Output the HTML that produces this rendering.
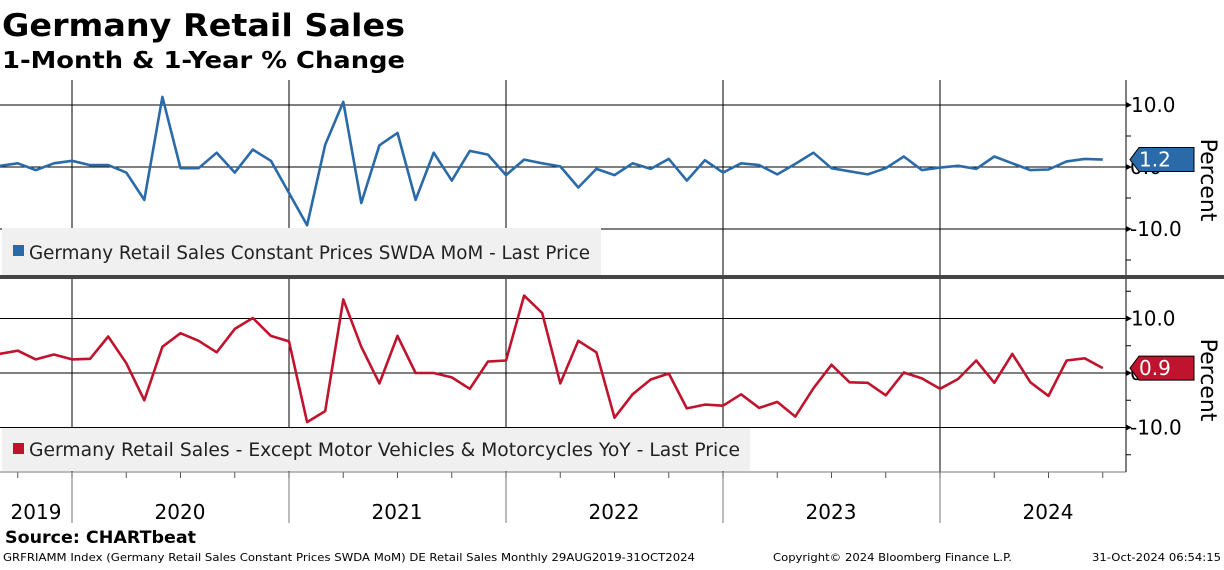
<!DOCTYPE html>
<html><head><meta charset="utf-8"><style>
body{margin:0;background:#fff;width:1224px;height:566px;overflow:hidden;font-family:"DejaVu Sans","Liberation Sans",sans-serif}
</style></head><body>
<svg id="chart" width="1224" height="566" xmlns="http://www.w3.org/2000/svg" font-family="DejaVu Sans, Liberation Sans, sans-serif">
<text x="2" y="36" font-size="31" font-weight="bold" textLength="403" lengthAdjust="spacingAndGlyphs">Germany Retail Sales</text>
<text x="2" y="68" font-size="23" font-weight="bold" textLength="403" lengthAdjust="spacingAndGlyphs">1-Month &amp; 1-Year % Change</text>
<g id="grid"></g>
<rect x="2" y="228" width="599" height="47" fill="#f0f0f0"/>
<rect x="2" y="428" width="748" height="43" fill="#f0f0f0"/>
<g id="marks"></g>
<rect x="13" y="245" width="11" height="11" fill="#2a6aa8"/>
<text x="29" y="259" font-size="19" fill="#222" textLength="561" lengthAdjust="spacingAndGlyphs">Germany Retail Sales Constant Prices SWDA MoM - Last Price</text>
<rect x="13" y="443" width="11" height="11" fill="#c0142e"/>
<text x="29" y="456" font-size="19" fill="#222" textLength="711" lengthAdjust="spacingAndGlyphs">Germany Retail Sales - Except Motor Vehicles &amp; Motorcycles YoY - Last Price</text>
<rect x="0" y="275" width="1224" height="4" fill="#444"/>
<text transform="translate(1201,180) rotate(90)" text-anchor="middle" font-size="22">Percent</text>
<text transform="translate(1201,380) rotate(90)" text-anchor="middle" font-size="22">Percent</text>
<text x="5" y="543" font-size="17" font-weight="bold" textLength="191" lengthAdjust="spacingAndGlyphs">Source: CHARTbeat</text>
<text x="3" y="561" font-size="11" textLength="692" lengthAdjust="spacingAndGlyphs">GRFRIAMM Index (Germany Retail Sales Constant Prices SWDA MoM) DE Retail Sales  Monthly 29AUG2019-31OCT2024</text>
<text x="773" y="561" font-size="11" textLength="239" lengthAdjust="spacingAndGlyphs">Copyright© 2024 Bloomberg Finance L.P.</text>
<text x="1092" y="561" font-size="11" textLength="129" lengthAdjust="spacingAndGlyphs">31-Oct-2024 06:54:15</text>
</svg>
<script>
const years = ["2019","2020","2021","2022","2023","2024"];
const momValues = [0.2,0.6,-0.5,0.6,1.0,0.3,0.3,-0.9,-5.3,11.3,-0.2,-0.2,2.3,-0.9,2.8,1.0,-4.2,-9.4,3.6,10.5,-5.8,3.5,5.5,-5.3,2.3,-2.2,2.6,2.0,-1.3,1.2,0.6,0.1,-3.3,-0.3,-1.3,0.6,-0.3,1.3,-2.2,1.1,-0.9,0.6,0.3,-1.2,0.5,2.3,-0.2,-0.7,-1.2,-0.2,1.7,-0.5,-0.1,0.2,-0.3,1.7,0.6,-0.5,-0.4,0.9,1.3,1.2];
const yoyValues = [3.5,4.1,2.5,3.4,2.5,2.6,6.7,1.8,-5.0,4.8,7.3,5.9,3.8,8.1,10.1,6.8,5.8,-9.0,-7.0,13.5,4.8,-1.9,6.8,0,0,-0.8,-2.9,2.1,2.3,14.2,11.0,-1.9,5.9,3.8,-8.2,-3.9,-1.2,-0.1,-6.5,-5.8,-6.0,-3.9,-6.4,-5.3,-8.0,-2.8,1.5,-1.7,-1.8,-4.1,0.1,-1.0,-2.9,-1.1,2.3,-1.8,3.5,-1.7,-4.2,2.3,2.7,0.9];
const yTicks = [10,0,-10];
const lastMom = "1.2", lastYoy = "0.9";

const NS="http://www.w3.org/2000/svg";
const AX=1126;
function x(i){return 72+(i-4)*217/12;}
function yTop(v){return 167-v*6.2;}
function yBot(v){return 373-v*5.45;}
function mk(tag,attrs,parent){const e=document.createElementNS(NS,tag);for(const k in attrs)e.setAttribute(k,attrs[k]);parent.appendChild(e);return e;}
const grid=document.getElementById('grid'), marks=document.getElementById('marks');

for(let k=1;k<years.length;k++){
  const xx=72+(k-1)*217;
  let l=mk('line',{x1:xx,x2:xx,y1:80,y2:472,stroke:'#000','stroke-width':1},grid);
  
  
  let l2=mk('line',{x1:xx,x2:xx,y1:472,y2:523,stroke:'#777','stroke-width':1},grid);
  
  
}
years.forEach((yr,k)=>{
  const cx = k===0 ? 36 : 72+(k-1)*217+108;
  let t=mk('text',{x:cx,y:519,'font-size':20,'text-anchor':'middle'},grid);
  t.textContent=yr;
  
  
});
for(let q=-1;q<22;q++){
  const xx=72+q*217/4;
  if(xx<0||xx>AX)continue;
  let t=mk('line',{x1:xx,x2:xx,y1:472,y2:478,stroke:'#555'},grid);
  
  
}
let bl=mk('line',{x1:0,x2:AX,y1:472,y2:472,stroke:'#777'},grid);


[[yTop,80,275,[15,5,-5,-15],'top'],[yBot,279,472,[15,5,-5,-15],'bottom']].forEach(([f,y0,y1,minor,nm])=>{
  let a=mk('line',{x1:AX,x2:AX,y1:y0,y2:y1,stroke:'#000'},grid);
  
  
  yTicks.forEach(v=>{
    const yy=f(v);
    let g=mk('line',{x1:0,x2:AX,y1:yy,y2:yy,stroke:'#000'},grid);
    
    
    mk('path',{d:`M${AX} ${yy-3}L${AX+6} ${yy}L${AX} ${yy+3}Z`,fill:'#000'},grid);
    let t=mk('text',{x:AX+4,y:yy+7,'font-size':20},grid);
    t.textContent=(v<0?'-':'')+Math.abs(v).toFixed(1);
    if(v===10)t.setAttribute('x',AX+5);
    
    
  });
  minor.forEach(v=>{const yy=f(v);if(yy<y0||yy>y1)return;mk('line',{x1:AX,x2:AX+5,y1:yy,y2:yy,stroke:'#000'},grid);});
});
function series(vals,f,color,name){
  const d=vals.map((v,i)=>(i?'L':'M')+x(i).toFixed(1)+' '+f(v).toFixed(1)).join('');
  let p=mk('path',{d:d,fill:'none',stroke:color,'stroke-width':2.6,'stroke-linejoin':'round'},marks);
  
  
}
series(momValues,yTop,'#2a6aa8','mom-line');
series(yoyValues,yBot,'#c0142e','yoy-line');
function tag(v,txt,f,color,name){
  const yy=f(v);
  let g=mk('path',{d:`M${AX+4} ${yy}L${AX+13} ${yy-12}H1194V${yy+12}H${AX+13}Z`,fill:color,stroke:'#000','stroke-width':1},marks);
  
  
  let t=mk('text',{x:AX+13,y:yy+7,'font-size':20,fill:'#fff'},marks);
  t.textContent=txt;
  
  
}
tag(+lastMom,lastMom,yTop,'#2a6aa8','last-value-tag-mom');
tag(+lastYoy,lastYoy,yBot,'#c0142e','last-value-tag-yoy');
</script>
</body></html>
